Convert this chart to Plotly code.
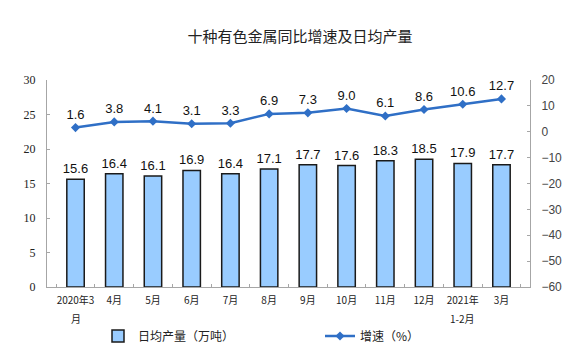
import plotly.graph_objects as go

categories = ["2020年3月", "4月", "5月", "6月", "7月", "8月", "9月", "10月", "11月", "12月", "2021年1-2月", "3月"]
tick_line1 = ["2020年3", "4月", "5月", "6月", "7月", "8月", "9月", "10月", "11月", "12月", "2021年", "3月"]
tick_line2 = ["月", "", "", "", "", "", "", "", "", "", "1-2月", ""]
daily_output = [15.6, 16.4, 16.1, 16.9, 16.4, 17.1, 17.7, 17.6, 18.3, 18.5, 17.9, 17.7]
growth_rate = [1.6, 3.8, 4.1, 3.1, 3.3, 6.9, 7.3, 9.0, 6.1, 8.6, 10.6, 12.7]
left_ticks = [0, 5, 10, 15, 20, 25, 30]
right_ticks = [-60, -50, -40, -30, -20, -10, 0, 10, 20]

cjk = "Noto Sans CJK SC"
# the page body has an 8px default margin; figure is sized to compensate
W, H, OFF = 568, 348, 8

fig = go.Figure()
fig.add_trace(go.Bar(
    x=categories, y=daily_output, name="日均产量（万吨）",
    marker=dict(color="#99CCFF", line=dict(color="#1a1a1a", width=1.5)),
    width=0.45,
    text=[f"{v:.1f}" for v in daily_output], textposition="outside",
    constraintext="none",
    textfont=dict(family="Liberation Sans, Arial", size=13, color="#111"),
    cliponaxis=False,
))
fig.add_trace(go.Scatter(
    x=categories, y=growth_rate, name="增速（%）", yaxis="y2",
    mode="lines+markers+text",
    line=dict(color="#2F6FC6", width=2.5),
    marker=dict(symbol="diamond", size=7, color="#2F6FC6"),
    text=[f"{v:.1f}" for v in growth_rate], textposition="top center",
    textfont=dict(family="Liberation Sans, Arial", size=13, color="#111"),
    cliponaxis=False,
))

for cat, t2 in zip(categories, tick_line2):
    if t2:
        fig.add_annotation(x=cat, y=0, xref="x", yref="paper", text=t2, showarrow=False,
                           yanchor="middle", yshift=-31,
                           font=dict(family=cjk, size=10, color="#222"))

fig.update_layout(
    width=W, height=H,
    margin=dict(l=47 - OFF, r=46, t=80 - OFF, b=69, autoexpand=False),
    paper_bgcolor="white", plot_bgcolor="white",
    title=dict(text="十种有色金属同比增速及日均产量", x=(300 - OFF) / W, xanchor="center",
               y=1 - (37 - OFF) / H, yanchor="middle", yref="container",
               font=dict(family=cjk, size=15, color="#222")),
    showlegend=True,
    legend=dict(orientation="h", xref="container", yref="container",
                x=(98 - OFF) / W, xanchor="left", y=1 - (336 - OFF) / H, yanchor="middle",
                font=dict(family=cjk, size=12, color="#222"), entrywidth=177,
                bgcolor="rgba(0,0,0,0)"),
    xaxis=dict(
        tickvals=categories, ticktext=tick_line1,
        showline=True, linecolor="#A6A6A6", linewidth=1,
        ticks="inside", ticklen=3, tickcolor="#A6A6A6", tickson="boundaries",
        tickfont=dict(family=cjk, size=10, color="#222"), tickangle=0, ticklabelstandoff=4,
        showgrid=False, fixedrange=True, automargin=False,
    ),
    yaxis=dict(
        range=[0, 30], tickvals=left_ticks, showline=True, linecolor="#A6A6A6", linewidth=1,
        ticks="inside", ticklen=3, tickcolor="#A6A6A6",
        tickfont=dict(family="Liberation Serif, Times New Roman", size=12, color="#222"),
        showgrid=False, zeroline=False, ticklabelstandoff=8, automargin=False,
    ),
    yaxis2=dict(
        range=[-60, 20], tickvals=right_ticks, overlaying="y", side="right",
        showline=True, linecolor="#A6A6A6", linewidth=1,
        ticks="inside", ticklen=3, tickcolor="#A6A6A6",
        tickfont=dict(family="Liberation Sans, Arial", size=12, color="#444"),
        showgrid=False, zeroline=False, ticklabelstandoff=8, automargin=False,
    ),
)

fig.write_html("out.html")
